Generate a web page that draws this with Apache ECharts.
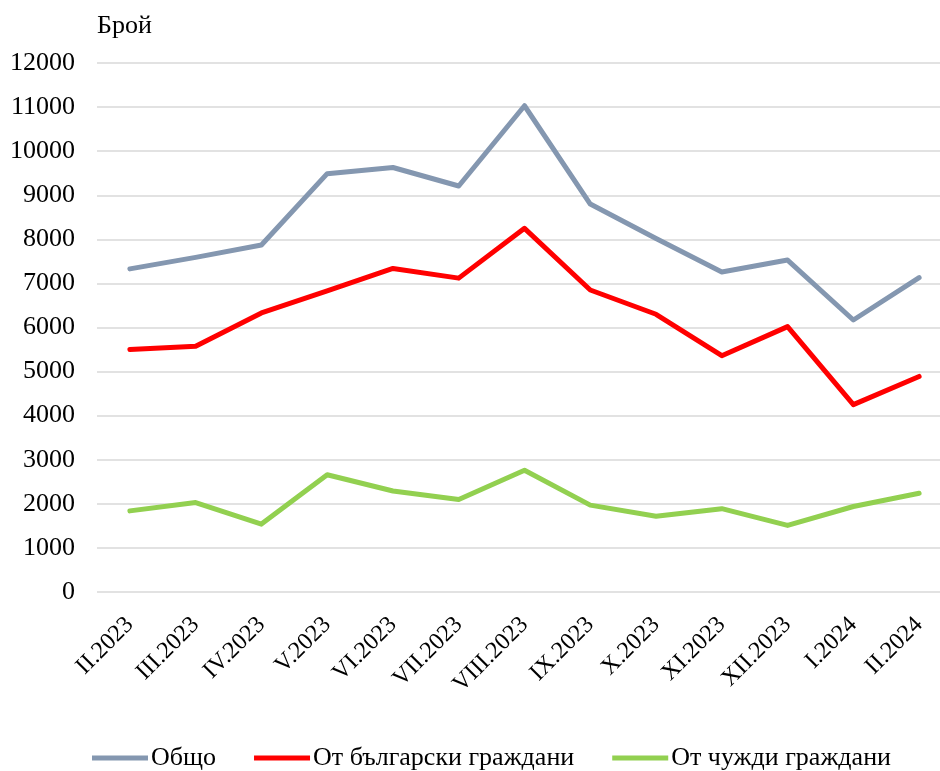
<!DOCTYPE html>
<html>
<head>
<meta charset="utf-8">
<script src="https://cdn.jsdelivr.net/npm/echarts@6/dist/echarts.min.js"></script>
<style>
html,body{margin:0;padding:0;background:#fff;}
#chart{width:940px;height:771px;}
</style>
</head>
<body>
<div id="chart"></div>
<script>
const categories = ['II.2023','III.2023','IV.2023','V.2023','VI.2023','VII.2023','VIII.2023','IX.2023','X.2023','XI.2023','XII.2023','I.2024','II.2024'];
const totalValues = [7330, 7590, 7870, 9490, 9630, 9210, 11030, 8800, 8020, 7260, 7530, 6170, 7130];
const bgValues = [5500, 5575, 6330, 6830, 7340, 7120, 8250, 6850, 6300, 5360, 6020, 4250, 4890];
const foreignValues = [1840, 2030, 1540, 2660, 2290, 2100, 2760, 1970, 1720, 1890, 1510, 1940, 2240];
const seriesNames = ['Общо', 'От български граждани', 'От чужди граждани'];
const yTicks = {min: 0, max: 12000, interval: 1000};
const yAxisName = 'Брой';

const FONT = '"Liberation Serif", "Times New Roman", serif';
const chart = echarts.init(document.getElementById('chart'), null, {renderer: 'canvas'});
chart.setOption({
  animation: false,
  backgroundColor: '#ffffff',
  textStyle: {fontFamily: FONT, color: '#000'},
  grid: {left: 97, top: 63, width: 855, height: 529, containLabel: false, outerBoundsMode: 'none'},
  legend: {
    bottom: -5,
    left: 87,
    itemWidth: 56,
    itemHeight: 5,
    itemGap: 38,
    icon: 'rect',
    textStyle: {fontFamily: FONT, fontSize: 26, color: '#000', padding: [0, 0, 0, -2]},
    data: seriesNames
  },
  xAxis: {
    type: 'category',
    data: categories,
    boundaryGap: true,
    axisLine: {show: false},
    axisTick: {show: false},
    axisLabel: {rotate: 45, fontFamily: FONT, fontSize: 24, color: '#000', margin: 29, interval: 0}
  },
  yAxis: {
    type: 'value',
    min: yTicks.min, max: yTicks.max, interval: yTicks.interval,
    name: yAxisName,
    nameLocation: 'end',
    nameGap: 37,
    nameTextStyle: {fontFamily: FONT, fontSize: 26, color: '#000', align: 'left', verticalAlign: 'middle'},
    axisLine: {show: false},
    axisTick: {show: false},
    axisLabel: {fontFamily: FONT, fontSize: 26, color: '#000', margin: 22, formatter: function (v) { return String(v); }},
    splitLine: {lineStyle: {color: '#d9d9d9', width: 1.5}}
  },
  series: [
    {name: seriesNames[0], type: 'line', data: totalValues, symbol: 'none', lineStyle: {color: '#8497B0', width: 5, cap: 'round', join: 'round'}, itemStyle: {color: '#8497B0'}},
    {name: seriesNames[1], type: 'line', data: bgValues, symbol: 'none', lineStyle: {color: '#FF0000', width: 5, cap: 'round', join: 'round'}, itemStyle: {color: '#FF0000'}},
    {name: seriesNames[2], type: 'line', data: foreignValues, symbol: 'none', lineStyle: {color: '#92D050', width: 5, cap: 'round', join: 'round'}, itemStyle: {color: '#92D050'}}
  ]
});
</script>
</body>
</html>
